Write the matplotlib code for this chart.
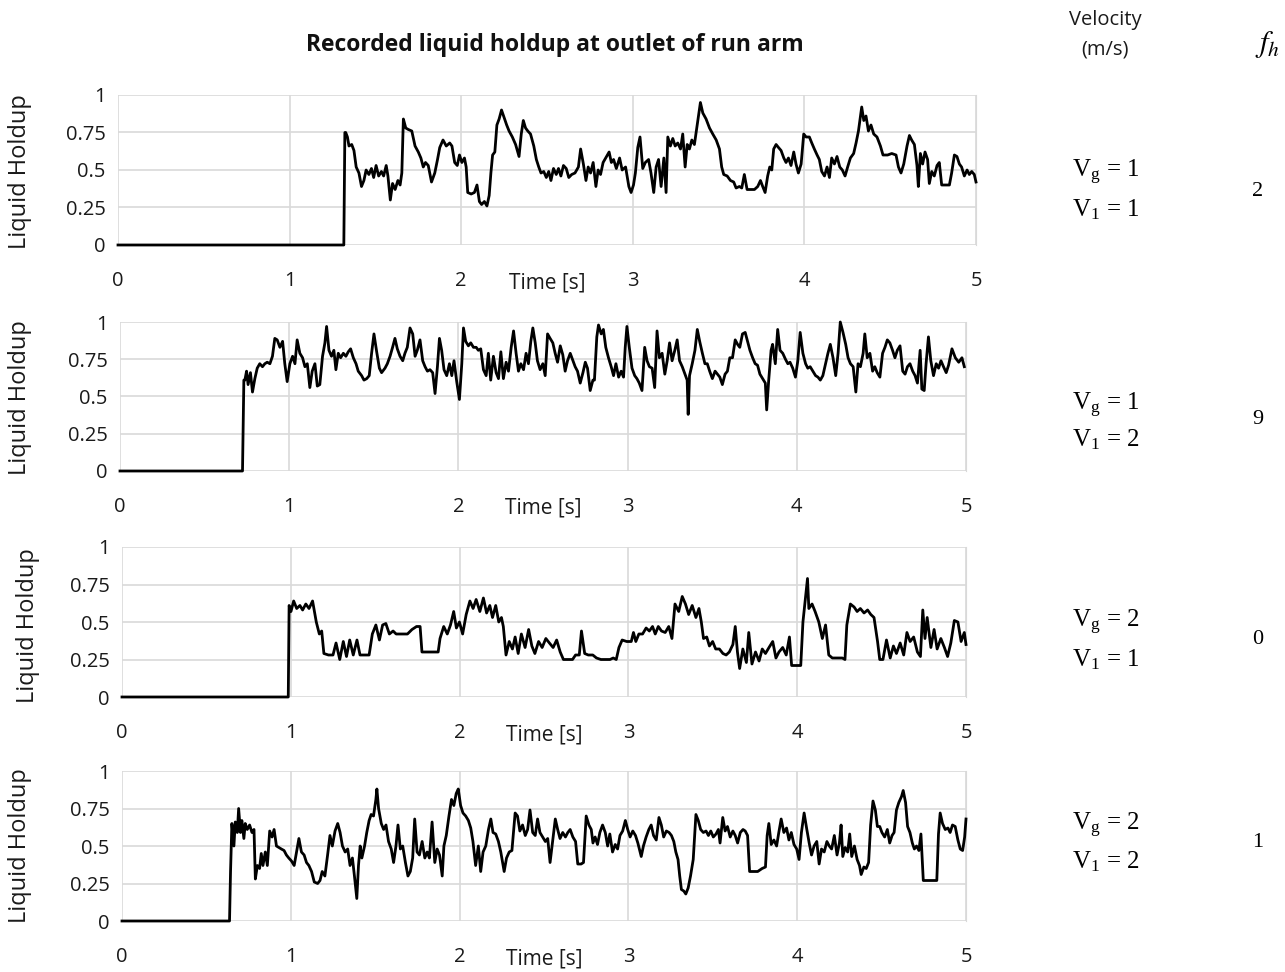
"""Recorded liquid holdup at outlet of run arm - four stacked traces"""

import matplotlib
matplotlib.use("Agg")
import matplotlib.pyplot as plt

plt.rcParams["font.family"] = ["Open Sans", "DejaVu Sans"]
plt.rcParams["mathtext.fontset"] = "stix"

# (time [s], liquid holdup)
HOLDUP_1 = [
    (0, 0), (1.316, 0), (1.322, 0.75), (1.327, 0.75), (1.337, 0.72), (1.346, 0.66), (1.362, 0.67),
    (1.375, 0.63), (1.388, 0.52), (1.404, 0.48), (1.419, 0.39), (1.433, 0.43), (1.446, 0.50),
    (1.462, 0.47), (1.477, 0.51), (1.490, 0.45), (1.504, 0.53), (1.519, 0.46), (1.535, 0.49),
    (1.548, 0.46), (1.563, 0.53), (1.573, 0.46), (1.587, 0.30), (1.600, 0.41), (1.615, 0.37),
    (1.631, 0.43), (1.644, 0.40), (1.654, 0.48), (1.663, 0.84), (1.677, 0.78), (1.692, 0.77),
    (1.712, 0.76), (1.731, 0.66), (1.750, 0.62), (1.765, 0.58), (1.779, 0.52), (1.792, 0.55),
    (1.808, 0.53), (1.827, 0.42), (1.846, 0.48), (1.862, 0.57), (1.875, 0.65), (1.894, 0.70),
    (1.913, 0.66), (1.933, 0.68), (1.946, 0.66), (1.962, 0.55), (1.977, 0.53), (1.990, 0.60),
    (2.004, 0.55), (2.019, 0.58), (2.029, 0.52), (2.038, 0.35), (2.058, 0.34), (2.077, 0.35),
    (2.092, 0.40), (2.106, 0.29), (2.119, 0.27), (2.135, 0.29), (2.150, 0.26), (2.163, 0.33),
    (2.173, 0.48), (2.183, 0.60), (2.196, 0.62), (2.208, 0.80), (2.221, 0.84), (2.235, 0.90),
    (2.250, 0.85), (2.265, 0.80), (2.279, 0.76), (2.298, 0.72), (2.317, 0.67), (2.337, 0.59),
    (2.350, 0.74), (2.362, 0.83), (2.375, 0.78), (2.388, 0.76), (2.404, 0.74), (2.423, 0.66),
    (2.438, 0.57), (2.452, 0.52), (2.465, 0.48), (2.481, 0.49), (2.496, 0.45), (2.510, 0.49),
    (2.523, 0.43), (2.538, 0.51), (2.554, 0.47), (2.567, 0.51), (2.581, 0.46), (2.596, 0.53),
    (2.612, 0.51), (2.627, 0.45), (2.644, 0.47), (2.663, 0.48), (2.683, 0.52), (2.696, 0.64),
    (2.712, 0.54), (2.727, 0.43), (2.740, 0.52), (2.754, 0.48), (2.769, 0.55), (2.785, 0.39),
    (2.798, 0.50), (2.812, 0.47), (2.827, 0.55), (2.842, 0.58), (2.862, 0.62), (2.875, 0.55),
    (2.888, 0.57), (2.904, 0.51), (2.923, 0.58), (2.938, 0.50), (2.958, 0.52), (2.977, 0.39),
    (2.990, 0.35), (3.004, 0.40), (3.015, 0.48), (3.029, 0.65), (3.042, 0.72), (3.058, 0.51),
    (3.073, 0.55), (3.092, 0.57), (3.106, 0.48), (3.122, 0.35), (3.136, 0.52), (3.150, 0.57),
    (3.165, 0.39), (3.181, 0.58), (3.194, 0.35), (3.204, 0.72), (3.219, 0.66), (3.233, 0.71),
    (3.247, 0.66), (3.262, 0.68), (3.278, 0.64), (3.291, 0.74), (3.305, 0.52), (3.317, 0.67),
    (3.330, 0.64), (3.344, 0.70), (3.359, 0.67), (3.375, 0.80), (3.394, 0.95), (3.408, 0.88),
    (3.427, 0.84), (3.447, 0.78), (3.466, 0.74), (3.486, 0.70), (3.505, 0.64), (3.518, 0.52),
    (3.530, 0.47), (3.550, 0.46), (3.569, 0.43), (3.588, 0.42), (3.602, 0.38), (3.621, 0.39),
    (3.635, 0.38), (3.650, 0.47), (3.666, 0.37), (3.686, 0.37), (3.709, 0.37), (3.728, 0.39),
    (3.744, 0.43), (3.757, 0.39), (3.771, 0.35), (3.786, 0.46), (3.798, 0.52), (3.810, 0.50),
    (3.821, 0.64), (3.835, 0.67), (3.849, 0.65), (3.864, 0.63), (3.880, 0.58), (3.893, 0.55),
    (3.907, 0.58), (3.922, 0.53), (3.938, 0.62), (3.951, 0.54), (3.965, 0.48), (3.981, 0.54),
    (3.996, 0.74), (4.010, 0.72), (4.029, 0.72), (4.043, 0.68), (4.058, 0.64), (4.074, 0.60),
    (4.087, 0.57), (4.101, 0.49), (4.117, 0.46), (4.132, 0.52), (4.146, 0.45), (4.159, 0.58),
    (4.175, 0.54), (4.190, 0.59), (4.206, 0.52), (4.221, 0.50), (4.237, 0.46), (4.252, 0.52),
    (4.268, 0.58), (4.287, 0.61), (4.301, 0.68), (4.315, 0.76), (4.334, 0.92), (4.346, 0.83),
    (4.359, 0.86), (4.373, 0.76), (4.388, 0.80), (4.404, 0.74), (4.423, 0.72), (4.443, 0.66),
    (4.458, 0.60), (4.485, 0.60), (4.509, 0.61), (4.534, 0.60), (4.548, 0.52), (4.563, 0.48),
    (4.579, 0.54), (4.598, 0.66), (4.612, 0.73), (4.625, 0.70), (4.641, 0.67), (4.656, 0.53),
    (4.664, 0.39), (4.676, 0.61), (4.689, 0.54), (4.703, 0.62), (4.718, 0.57), (4.728, 0.41),
    (4.742, 0.49), (4.757, 0.46), (4.773, 0.53), (4.786, 0.55), (4.800, 0.40), (4.819, 0.40),
    (4.845, 0.40), (4.858, 0.48), (4.874, 0.60), (4.889, 0.59), (4.903, 0.54), (4.916, 0.52),
    (4.932, 0.46), (4.948, 0.50), (4.961, 0.47), (4.975, 0.49), (4.990, 0.47), (5.0, 0.42),
]

HOLDUP_2 = [
    (0, 0), (0.724, 0), (0.732, 0.61), (0.738, 0.61), (0.748, 0.67), (0.757, 0.58), (0.771, 0.66),
    (0.783, 0.53), (0.797, 0.62), (0.811, 0.69), (0.826, 0.72), (0.842, 0.70), (0.856, 0.72),
    (0.870, 0.73), (0.886, 0.72), (0.901, 0.77), (0.915, 0.89), (0.929, 0.88), (0.945, 0.83),
    (0.961, 0.87), (0.974, 0.72), (0.988, 0.60), (1.004, 0.72), (1.020, 0.77), (1.034, 0.72),
    (1.047, 0.88), (1.063, 0.79), (1.079, 0.76), (1.093, 0.70), (1.107, 0.72), (1.122, 0.56),
    (1.136, 0.67), (1.152, 0.72), (1.166, 0.57), (1.181, 0.58), (1.197, 0.77), (1.211, 0.86),
    (1.221, 0.97), (1.235, 0.81), (1.250, 0.77), (1.264, 0.81), (1.276, 0.68), (1.290, 0.79),
    (1.304, 0.76), (1.320, 0.79), (1.335, 0.77), (1.349, 0.80), (1.363, 0.82), (1.379, 0.76),
    (1.395, 0.72), (1.408, 0.67), (1.428, 0.64), (1.442, 0.61), (1.458, 0.62), (1.473, 0.64),
    (1.487, 0.79), (1.501, 0.92), (1.517, 0.80), (1.533, 0.69), (1.546, 0.66), (1.566, 0.69),
    (1.580, 0.72), (1.596, 0.77), (1.611, 0.83), (1.625, 0.89), (1.639, 0.82), (1.655, 0.77),
    (1.671, 0.74), (1.684, 0.79), (1.698, 0.83), (1.714, 0.96), (1.730, 0.92), (1.744, 0.77),
    (1.757, 0.81), (1.773, 0.88), (1.789, 0.74), (1.803, 0.70), (1.817, 0.67), (1.832, 0.68),
    (1.848, 0.66), (1.862, 0.52), (1.876, 0.70), (1.888, 0.89), (1.901, 0.81), (1.915, 0.68),
    (1.931, 0.64), (1.947, 0.72), (1.961, 0.64), (1.974, 0.74), (1.990, 0.60), (2.006, 0.48),
    (2.020, 0.72), (2.030, 0.96), (2.043, 0.87), (2.059, 0.84), (2.073, 0.86), (2.089, 0.83),
    (2.105, 0.83), (2.118, 0.81), (2.132, 0.82), (2.148, 0.68), (2.164, 0.64), (2.177, 0.79),
    (2.191, 0.61), (2.207, 0.77), (2.223, 0.66), (2.237, 0.62), (2.251, 0.80), (2.266, 0.62),
    (2.282, 0.73), (2.296, 0.67), (2.312, 0.83), (2.326, 0.94), (2.341, 0.79), (2.355, 0.67),
    (2.369, 0.72), (2.385, 0.68), (2.400, 0.79), (2.414, 0.72), (2.428, 0.87), (2.440, 0.96),
    (2.454, 0.86), (2.467, 0.74), (2.483, 0.68), (2.499, 0.72), (2.513, 0.64), (2.527, 0.92),
    (2.542, 0.89), (2.558, 0.86), (2.572, 0.79), (2.586, 0.73), (2.602, 0.84), (2.617, 0.78),
    (2.631, 0.67), (2.645, 0.74), (2.661, 0.79), (2.677, 0.74), (2.690, 0.70), (2.704, 0.67),
    (2.720, 0.59), (2.736, 0.66), (2.750, 0.73), (2.763, 0.69), (2.779, 0.54), (2.795, 0.61),
    (2.804, 0.61), (2.818, 0.90), (2.828, 0.98), (2.844, 0.92), (2.857, 0.95), (2.871, 0.83),
    (2.887, 0.76), (2.903, 0.70), (2.917, 0.64), (2.931, 0.72), (2.947, 0.63), (2.962, 0.67),
    (2.976, 0.63), (2.986, 0.83), (2.996, 0.97), (3.010, 0.83), (3.026, 0.69), (3.042, 0.64),
    (3.055, 0.62), (3.069, 0.59), (3.085, 0.54), (3.101, 0.83), (3.115, 0.74), (3.129, 0.70),
    (3.145, 0.69), (3.160, 0.56), (3.174, 0.94), (3.188, 0.76), (3.204, 0.79), (3.220, 0.65),
    (3.234, 0.74), (3.248, 0.86), (3.263, 0.74), (3.279, 0.81), (3.293, 0.88), (3.307, 0.74),
    (3.323, 0.70), (3.339, 0.65), (3.352, 0.61), (3.358, 0.38), (3.366, 0.64), (3.382, 0.72),
    (3.398, 0.81), (3.412, 0.95), (3.426, 0.87), (3.442, 0.79), (3.457, 0.72), (3.471, 0.72),
    (3.485, 0.67), (3.501, 0.62), (3.517, 0.67), (3.531, 0.65), (3.545, 0.63), (3.560, 0.58),
    (3.576, 0.65), (3.590, 0.67), (3.604, 0.76), (3.620, 0.76), (3.636, 0.88), (3.650, 0.85),
    (3.663, 0.83), (3.679, 0.92), (3.695, 0.93), (3.709, 0.87), (3.723, 0.81), (3.739, 0.76),
    (3.754, 0.72), (3.768, 0.71), (3.782, 0.65), (3.798, 0.62), (3.814, 0.59), (3.822, 0.41),
    (3.834, 0.61), (3.848, 0.81), (3.857, 0.85), (3.873, 0.72), (3.887, 0.95), (3.901, 0.81),
    (3.917, 0.79), (3.933, 0.75), (3.947, 0.72), (3.960, 0.73), (3.976, 0.69), (3.992, 0.63),
    (4.006, 0.74), (4.020, 0.93), (4.036, 0.79), (4.052, 0.72), (4.065, 0.69), (4.079, 0.70),
    (4.095, 0.67), (4.111, 0.64), (4.125, 0.63), (4.139, 0.61), (4.154, 0.64), (4.170, 0.72),
    (4.184, 0.79), (4.198, 0.85), (4.214, 0.76), (4.230, 0.64), (4.244, 0.79), (4.257, 1.00),
    (4.273, 0.93), (4.289, 0.85), (4.303, 0.76), (4.317, 0.72), (4.333, 0.70), (4.349, 0.53),
    (4.362, 0.72), (4.376, 0.70), (4.392, 0.79), (4.402, 0.92), (4.416, 0.76), (4.432, 0.79),
    (4.448, 0.67), (4.461, 0.70), (4.475, 0.66), (4.491, 0.63), (4.507, 0.79), (4.521, 0.83),
    (4.535, 0.88), (4.550, 0.86), (4.566, 0.81), (4.580, 0.76), (4.594, 0.81), (4.610, 0.84),
    (4.626, 0.67), (4.640, 0.65), (4.654, 0.70), (4.669, 0.72), (4.685, 0.67), (4.699, 0.64),
    (4.713, 0.59), (4.729, 0.81), (4.739, 0.55), (4.753, 0.54), (4.764, 0.72), (4.778, 0.90),
    (4.792, 0.74), (4.808, 0.64), (4.824, 0.72), (4.838, 0.69), (4.852, 0.74), (4.867, 0.70),
    (4.883, 0.66), (4.897, 0.71), (4.917, 0.82), (4.937, 0.76), (4.957, 0.73), (4.976, 0.76),
    (4.990, 0.70),
]

HOLDUP_3 = [
    (0, 0), (0.985, 0), (0.99, 0.61), (1.001, 0.57), (1.017, 0.64), (1.035, 0.59), (1.054, 0.61),
    (1.070, 0.58), (1.089, 0.62), (1.108, 0.59), (1.129, 0.64), (1.151, 0.50), (1.169, 0.42),
    (1.183, 0.44), (1.196, 0.29), (1.223, 0.28), (1.250, 0.28), (1.268, 0.36), (1.290, 0.25),
    (1.311, 0.37), (1.330, 0.27), (1.349, 0.38), (1.370, 0.28), (1.392, 0.38), (1.410, 0.28),
    (1.437, 0.28), (1.464, 0.28), (1.483, 0.42), (1.504, 0.48), (1.525, 0.38), (1.544, 0.48),
    (1.563, 0.49), (1.584, 0.42), (1.606, 0.44), (1.624, 0.42), (1.659, 0.42), (1.691, 0.42),
    (1.718, 0.45), (1.745, 0.47), (1.766, 0.47), (1.777, 0.30), (1.825, 0.30), (1.873, 0.30),
    (1.884, 0.39), (1.906, 0.47), (1.927, 0.42), (1.946, 0.48), (1.965, 0.57), (1.981, 0.46),
    (1.999, 0.50), (2.018, 0.42), (2.039, 0.55), (2.061, 0.64), (2.080, 0.59), (2.098, 0.65),
    (2.120, 0.57), (2.141, 0.66), (2.160, 0.56), (2.179, 0.61), (2.195, 0.53), (2.214, 0.61),
    (2.232, 0.50), (2.248, 0.53), (2.259, 0.47), (2.275, 0.28), (2.294, 0.37), (2.313, 0.32),
    (2.329, 0.40), (2.347, 0.29), (2.366, 0.42), (2.388, 0.33), (2.409, 0.45), (2.428, 0.34),
    (2.446, 0.29), (2.468, 0.37), (2.489, 0.33), (2.511, 0.39), (2.532, 0.36), (2.554, 0.33),
    (2.575, 0.38), (2.596, 0.30), (2.615, 0.25), (2.642, 0.25), (2.669, 0.25), (2.687, 0.28),
    (2.709, 0.28), (2.722, 0.44), (2.741, 0.29), (2.762, 0.28), (2.789, 0.28), (2.811, 0.26),
    (2.837, 0.25), (2.864, 0.25), (2.891, 0.25), (2.910, 0.26), (2.928, 0.25), (2.944, 0.33),
    (2.963, 0.38), (2.990, 0.37), (3.017, 0.37), (3.030, 0.43), (3.044, 0.37), (3.062, 0.42),
    (3.084, 0.42), (3.105, 0.46), (3.124, 0.44), (3.143, 0.47), (3.159, 0.42), (3.177, 0.47),
    (3.196, 0.44), (3.218, 0.43), (3.239, 0.47), (3.258, 0.39), (3.276, 0.62), (3.298, 0.57),
    (3.319, 0.67), (3.338, 0.62), (3.357, 0.55), (3.378, 0.61), (3.400, 0.53), (3.418, 0.59),
    (3.432, 0.50), (3.445, 0.39), (3.464, 0.40), (3.480, 0.34), (3.499, 0.37), (3.517, 0.32),
    (3.539, 0.32), (3.560, 0.29), (3.579, 0.28), (3.598, 0.30), (3.619, 0.35), (3.633, 0.47),
    (3.646, 0.30), (3.659, 0.19), (3.678, 0.32), (3.699, 0.23), (3.713, 0.43), (3.732, 0.22),
    (3.753, 0.30), (3.774, 0.24), (3.793, 0.32), (3.812, 0.29), (3.833, 0.33), (3.855, 0.37),
    (3.874, 0.26), (3.892, 0.30), (3.914, 0.33), (3.935, 0.28), (3.954, 0.40), (3.967, 0.21),
    (3.994, 0.21), (4.021, 0.21), (4.034, 0.50), (4.047, 0.64), (4.061, 0.79), (4.069, 0.59),
    (4.088, 0.62), (4.106, 0.57), (4.128, 0.50), (4.149, 0.39), (4.168, 0.48), (4.187, 0.28),
    (4.208, 0.26), (4.235, 0.26), (4.267, 0.26), (4.283, 0.25), (4.294, 0.48), (4.315, 0.62),
    (4.337, 0.60), (4.355, 0.57), (4.374, 0.59), (4.396, 0.56), (4.417, 0.58), (4.436, 0.55),
    (4.455, 0.53), (4.476, 0.37), (4.489, 0.25), (4.508, 0.25), (4.529, 0.38), (4.551, 0.26),
    (4.570, 0.34), (4.588, 0.29), (4.610, 0.36), (4.631, 0.28), (4.650, 0.43), (4.669, 0.37),
    (4.690, 0.40), (4.712, 0.30), (4.730, 0.27), (4.744, 0.58), (4.757, 0.39), (4.770, 0.53),
    (4.792, 0.33), (4.811, 0.45), (4.829, 0.32), (4.851, 0.39), (4.872, 0.33), (4.891, 0.27),
    (4.910, 0.36), (4.931, 0.51), (4.952, 0.50), (4.971, 0.37), (4.990, 0.43), (5.0, 0.35),
]

HOLDUP_4 = [
    (0, 0), (0.637, 0), (0.643, 0.33), (0.651, 0.65), (0.663, 0.50), (0.671, 0.66), (0.683, 0.59),
    (0.691, 0.75), (0.702, 0.59), (0.710, 0.67), (0.722, 0.55), (0.730, 0.65), (0.742, 0.61),
    (0.756, 0.64), (0.770, 0.59), (0.782, 0.61), (0.790, 0.28), (0.802, 0.37), (0.815, 0.35),
    (0.825, 0.45), (0.835, 0.37), (0.849, 0.46), (0.861, 0.37), (0.875, 0.60), (0.889, 0.56),
    (0.901, 0.61), (0.915, 0.50), (0.929, 0.49), (0.944, 0.48), (0.960, 0.47), (0.974, 0.44),
    (0.988, 0.42), (1.004, 0.40), (1.020, 0.37), (1.034, 0.46), (1.048, 0.55), (1.063, 0.46),
    (1.079, 0.44), (1.093, 0.39), (1.107, 0.37), (1.123, 0.33), (1.139, 0.26), (1.159, 0.25),
    (1.173, 0.27), (1.186, 0.33), (1.202, 0.30), (1.218, 0.44), (1.232, 0.57), (1.246, 0.50),
    (1.262, 0.60), (1.278, 0.65), (1.292, 0.59), (1.306, 0.50), (1.322, 0.46), (1.337, 0.48),
    (1.351, 0.37), (1.365, 0.42), (1.377, 0.30), (1.391, 0.15), (1.401, 0.37), (1.411, 0.50),
    (1.421, 0.42), (1.437, 0.50), (1.450, 0.59), (1.464, 0.67), (1.476, 0.71), (1.490, 0.70),
    (1.504, 0.81), (1.510, 0.88), (1.520, 0.75), (1.536, 0.65), (1.550, 0.61), (1.564, 0.64),
    (1.579, 0.53), (1.595, 0.48), (1.609, 0.39), (1.623, 0.50), (1.635, 0.64), (1.649, 0.48),
    (1.663, 0.50), (1.679, 0.39), (1.694, 0.30), (1.708, 0.33), (1.722, 0.42), (1.734, 0.68),
    (1.748, 0.46), (1.762, 0.44), (1.778, 0.53), (1.794, 0.42), (1.808, 0.46), (1.821, 0.42),
    (1.837, 0.66), (1.853, 0.39), (1.867, 0.48), (1.881, 0.44), (1.897, 0.30), (1.907, 0.50),
    (1.921, 0.57), (1.937, 0.70), (1.952, 0.81), (1.966, 0.77), (1.980, 0.85), (1.992, 0.88),
    (2.006, 0.77), (2.020, 0.72), (2.036, 0.70), (2.052, 0.67), (2.066, 0.62), (2.079, 0.53),
    (2.095, 0.37), (2.111, 0.50), (2.125, 0.33), (2.139, 0.46), (2.155, 0.50), (2.171, 0.61),
    (2.185, 0.68), (2.198, 0.59), (2.214, 0.58), (2.230, 0.53), (2.244, 0.46), (2.264, 0.33),
    (2.278, 0.42), (2.294, 0.46), (2.310, 0.47), (2.329, 0.72), (2.343, 0.70), (2.357, 0.60),
    (2.373, 0.64), (2.389, 0.57), (2.403, 0.61), (2.417, 0.74), (2.433, 0.59), (2.448, 0.57),
    (2.462, 0.68), (2.476, 0.59), (2.492, 0.56), (2.508, 0.53), (2.522, 0.55), (2.536, 0.39),
    (2.552, 0.54), (2.567, 0.68), (2.581, 0.61), (2.595, 0.55), (2.611, 0.59), (2.627, 0.56),
    (2.641, 0.59), (2.655, 0.61), (2.671, 0.56), (2.687, 0.53), (2.700, 0.38), (2.720, 0.38),
    (2.734, 0.39), (2.750, 0.70), (2.766, 0.64), (2.780, 0.61), (2.790, 0.52), (2.803, 0.56),
    (2.817, 0.51), (2.831, 0.59), (2.847, 0.64), (2.863, 0.59), (2.877, 0.50), (2.890, 0.58),
    (2.906, 0.46), (2.922, 0.51), (2.936, 0.48), (2.950, 0.57), (2.966, 0.60), (2.982, 0.67),
    (2.996, 0.61), (3.010, 0.56), (3.026, 0.60), (3.042, 0.57), (3.056, 0.52), (3.076, 0.43),
    (3.089, 0.50), (3.105, 0.56), (3.121, 0.61), (3.135, 0.64), (3.149, 0.57), (3.165, 0.54),
    (3.181, 0.69), (3.195, 0.64), (3.209, 0.56), (3.225, 0.60), (3.241, 0.59), (3.255, 0.57),
    (3.269, 0.53), (3.281, 0.46), (3.294, 0.41), (3.304, 0.30), (3.314, 0.21), (3.328, 0.20),
    (3.340, 0.18), (3.354, 0.22), (3.368, 0.30), (3.384, 0.41), (3.400, 0.71), (3.414, 0.67),
    (3.428, 0.61), (3.444, 0.59), (3.460, 0.60), (3.474, 0.57), (3.488, 0.60), (3.503, 0.56),
    (3.519, 0.58), (3.533, 0.61), (3.543, 0.52), (3.559, 0.69), (3.573, 0.60), (3.587, 0.63),
    (3.603, 0.56), (3.619, 0.60), (3.633, 0.57), (3.647, 0.52), (3.663, 0.59), (3.679, 0.61),
    (3.692, 0.60), (3.706, 0.57), (3.718, 0.33), (3.742, 0.33), (3.766, 0.33), (3.792, 0.35),
    (3.812, 0.36), (3.822, 0.57), (3.832, 0.65), (3.846, 0.51), (3.862, 0.54), (3.878, 0.50),
    (3.891, 0.59), (3.905, 0.68), (3.921, 0.59), (3.937, 0.62), (3.951, 0.54), (3.965, 0.59),
    (3.981, 0.51), (3.997, 0.48), (4.011, 0.41), (4.025, 0.59), (4.041, 0.72), (4.057, 0.61),
    (4.071, 0.52), (4.085, 0.44), (4.100, 0.50), (4.116, 0.53), (4.130, 0.38), (4.144, 0.48),
    (4.160, 0.46), (4.176, 0.53), (4.190, 0.50), (4.204, 0.48), (4.220, 0.57), (4.236, 0.44),
    (4.250, 0.52), (4.260, 0.64), (4.270, 0.43), (4.284, 0.49), (4.299, 0.46), (4.311, 0.58),
    (4.323, 0.43), (4.339, 0.50), (4.355, 0.41), (4.369, 0.37), (4.379, 0.31), (4.395, 0.36),
    (4.409, 0.35), (4.423, 0.39), (4.435, 0.64), (4.449, 0.80), (4.463, 0.74), (4.475, 0.63),
    (4.489, 0.63), (4.502, 0.59), (4.518, 0.56), (4.534, 0.61), (4.548, 0.52), (4.562, 0.57),
    (4.574, 0.59), (4.588, 0.74), (4.602, 0.79), (4.618, 0.83), (4.628, 0.87), (4.642, 0.79),
    (4.654, 0.63), (4.668, 0.59), (4.682, 0.52), (4.694, 0.48), (4.707, 0.50), (4.721, 0.47),
    (4.733, 0.58), (4.747, 0.27), (4.773, 0.27), (4.797, 0.27), (4.827, 0.27), (4.837, 0.58),
    (4.847, 0.72), (4.861, 0.65), (4.877, 0.61), (4.893, 0.62), (4.906, 0.59), (4.920, 0.64),
    (4.936, 0.63), (4.952, 0.54), (4.966, 0.48), (4.980, 0.47), (4.992, 0.56), (5.0, 0.68),
]

SERIES = [HOLDUP_1, HOLDUP_2, HOLDUP_3, HOLDUP_4]
VG = [1, 1, 2, 2]
VL = [1, 2, 1, 2]
FH = [2, 9, 0, 1]

X_TICKS = [0, 1, 2, 3, 4, 5]
Y_TICKS = [0, 0.25, 0.5, 0.75, 1]
Y_TICK_LABELS = ["0", "0.25", "0.5", "0.75", "1"]

# figure pixel layout
W, H = 1285, 972
BOXES = [(118, 976, 95, 245), (120, 966, 322, 471), (122, 966, 547, 697), (122, 966, 771, 921)]
YLABEL_POS = [(20, 172), (20, 398), (28, 626), (20, 846)]
VEL_ROWS = [(172, 210, 192), (405, 440, 420), (622, 660, 640), (825, 862, 842)]
GRID = "#d9d9d9"
TXT = "#1a1a1a"

fig = plt.figure(figsize=(W / 100, H / 100), dpi=100)


def fx(px):
    return px / W


def fy(py):
    return 1 - py / H


for i, data in enumerate(SERIES):
    left, right, top, bottom = BOXES[i]
    ax = fig.add_axes([fx(left), fy(bottom), (right - left) / W, (bottom - top) / H])
    t = [p[0] for p in data]
    v = [p[1] for p in data]
    ax.plot(t, v, color="black", linewidth=2.0, clip_on=False, zorder=3)
    ax.set_xlim(0, 5)
    ax.set_ylim(0, 1)
    ax.set_xticks(X_TICKS)
    ax.set_yticks(Y_TICKS)
    ax.set_yticklabels(Y_TICK_LABELS)
    ax.grid(True, color=GRID, linewidth=1.2, zorder=0)
    for s in ax.spines.values():
        s.set_visible(False)
    ax.spines["right"].set_visible(True)
    ax.spines["right"].set_color(GRID)
    ax.tick_params(length=0, labelsize=14.5, colors=TXT)
    ax.tick_params(axis="x", pad=19)
    ax.tick_params(axis="y", pad=9)
    ax.set_axisbelow(True)
    # axis caption sits between the 2 and 3 ticks, level with the tick labels
    ax.text(2.5, -0.25, "Time [s]", transform=ax.transData, ha="center", va="center",
            fontsize=15, color=TXT, clip_on=False)

    lx, ly = YLABEL_POS[i]
    fig.text(fx(lx), fy(ly), "Liquid Holdup", rotation=90, ha="center", va="center",
             fontsize=17, color=TXT)

    yg, yl, yf = VEL_ROWS[i]
    fig.text(fx(1106), fy(yg), r"V$_\mathregular{g}$ = %d" % VG[i], ha="center", va="center",
             fontsize=18, family="Liberation Serif")
    fig.text(fx(1106), fy(yl), r"V$_\mathregular{1}$ = %d" % VL[i], ha="center", va="center",
             fontsize=18, family="Liberation Serif")
    fig.text(fx(1258), fy(yf), str(FH[i]), ha="center", va="center",
             fontsize=16, family="Liberation Serif")

fig.text(fx(555), fy(45), "Recorded liquid holdup at outlet of run arm", ha="center", va="center",
         fontsize=16.5, fontweight="bold", color="#111111")
fig.text(fx(1105), fy(20), "Velocity", ha="center", va="center", fontsize=14.5, color=TXT)
fig.text(fx(1105), fy(49), "(m/s)", ha="center", va="center", fontsize=14.5, color=TXT)
fig.text(fx(1268), fy(45), r"$f_h$", ha="center", va="center", fontsize=22)

fig.savefig("out.png", dpi=100)
